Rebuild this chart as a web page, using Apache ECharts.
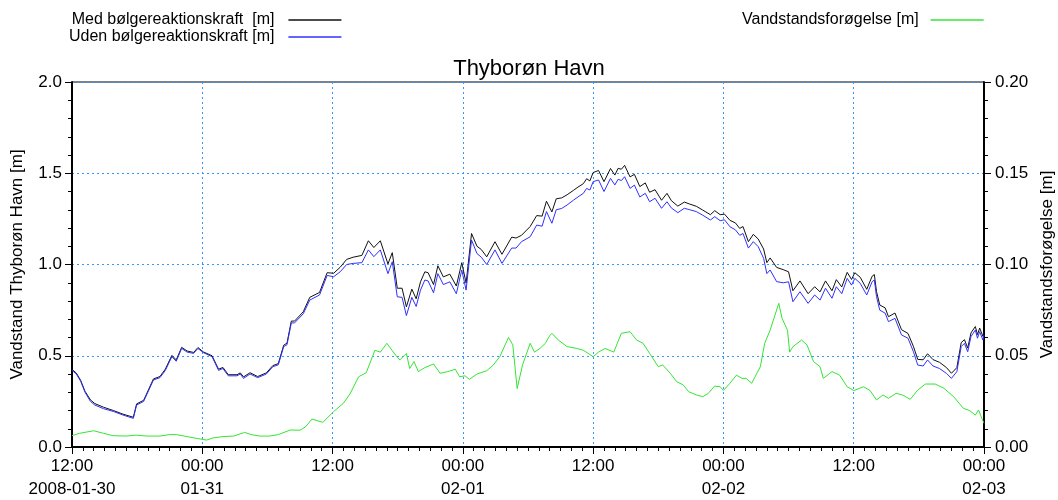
<!DOCTYPE html>
<html><head><meta charset="utf-8">
<script src="https://cdn.jsdelivr.net/npm/echarts@6/dist/echarts.min.js"></script>
<style>html,body{margin:0;padding:0;background:#fff}#c{width:1058px;height:500px}</style>
</head><body><div id="c"></div>
<script>
// Hours since 2008-01-30 12:00
const levelHours = [0,0.4,0.8,1.2,1.7,2.1,2.9,3.8,4.7,5.65,5.95,6.6,7.5,8.1,8.6,9.2,9.6,10.1,10.6,11.2,11.6,12.1,12.9,13.5,13.9,14.4,15.2,15.5,15.8,16.4,17.1,17.9,18.5,19.0,19.5,19.8,20.2,20.5,21.3,21.9,22.8,23.5,24.1,24.7,25.3,25.9,26.7,27.3,27.8,28.4,29.1,29.5,29.96,30.4,30.8,31.3,31.7,32.1,32.5,32.8,33.3,33.7,34.2,34.8,35.4,35.9,36.3,36.8,37.3,37.7,38.2,38.96,39.6,40.5,40.9,41.4,42.2,42.8,43.3,43.7,44.2,44.6,45.1,45.6,46.2,46.6,47.1,47.4,47.7,48.0,48.5,49.0,49.6,50.0,50.3,50.6,50.9,51.4,51.8,52.3,52.8,53.2,53.7,54.3,54.8,55.2,55.8,56.4,56.9,57.5,58.1,58.8,59.2,59.7,60.1,60.6,61.1,61.5,61.8,62.3,62.75,63.2,63.7,64.0,64.3,64.9,65.5,66.0,66.4,67.05,67.8,68.4,68.9,69.4,70.0,70.4,70.9,71.4,71.8,72.1,72.6,73.2,73.7,73.9,74.1,74.4,74.9,75.2,75.8,76.4,77.0,77.5,77.9,78.4,78.8,79.3,79.9,80.55,81.0,81.5,81.9,82.2,82.5,82.8,83.2,83.4,83.6,83.9,84.0];
const medVals = [0.425,0.405,0.365,0.305,0.258,0.238,0.218,0.20,0.18,0.163,0.236,0.256,0.373,0.386,0.427,0.502,0.477,0.546,0.526,0.518,0.545,0.521,0.50,0.426,0.436,0.396,0.396,0.406,0.384,0.407,0.386,0.406,0.446,0.457,0.558,0.569,0.69,0.69,0.741,0.82,0.847,0.955,0.952,0.985,1.028,1.04,1.05,1.13,1.093,1.13,1.003,1.065,0.87,0.87,0.768,0.865,0.812,0.905,0.96,0.955,0.89,0.993,0.932,0.947,0.882,1.01,0.898,1.17,1.10,1.082,1.042,1.125,1.056,1.15,1.145,1.16,1.208,1.268,1.265,1.347,1.288,1.36,1.365,1.382,1.407,1.424,1.443,1.47,1.458,1.504,1.515,1.454,1.526,1.49,1.527,1.522,1.543,1.48,1.494,1.427,1.447,1.396,1.41,1.352,1.39,1.35,1.32,1.342,1.331,1.319,1.298,1.273,1.295,1.273,1.276,1.242,1.228,1.198,1.208,1.125,1.165,1.14,1.085,1.01,1.036,0.984,0.972,0.96,0.856,0.91,0.84,0.878,0.85,0.91,0.856,0.917,0.877,0.957,0.918,0.955,0.93,0.864,0.936,0.945,0.852,0.778,0.762,0.714,0.734,0.643,0.622,0.551,0.48,0.478,0.511,0.479,0.464,0.435,0.404,0.435,0.572,0.588,0.542,0.625,0.66,0.616,0.652,0.606,0.634];
const udenVals = [0.42,0.40,0.36,0.30,0.25,0.23,0.21,0.195,0.175,0.157,0.23,0.25,0.367,0.38,0.42,0.495,0.47,0.54,0.52,0.513,0.54,0.517,0.495,0.42,0.43,0.39,0.39,0.40,0.376,0.40,0.38,0.40,0.44,0.45,0.55,0.56,0.68,0.68,0.73,0.805,0.833,0.94,0.933,0.96,1.0,1.006,1.01,1.08,1.043,1.08,0.95,1.015,0.823,0.82,0.72,0.82,0.77,0.86,0.915,0.91,0.845,0.95,0.89,0.905,0.84,0.97,0.86,1.134,1.06,1.04,1.0,1.08,1.006,1.09,1.09,1.125,1.152,1.216,1.21,1.29,1.226,1.30,1.307,1.326,1.353,1.37,1.39,1.417,1.408,1.454,1.463,1.40,1.472,1.436,1.467,1.46,1.481,1.417,1.435,1.37,1.39,1.344,1.363,1.308,1.344,1.31,1.284,1.308,1.30,1.29,1.27,1.244,1.262,1.24,1.245,1.207,1.19,1.16,1.17,1.09,1.125,1.098,1.034,0.95,0.97,0.906,0.90,0.905,0.796,0.851,0.787,0.833,0.805,0.87,0.815,0.878,0.84,0.924,0.887,0.924,0.897,0.833,0.906,0.915,0.824,0.75,0.733,0.687,0.705,0.614,0.596,0.522,0.449,0.444,0.477,0.444,0.43,0.403,0.376,0.413,0.55,0.568,0.522,0.605,0.641,0.596,0.632,0.586,0.614];
const surgeHours = [0,0.7,2.0,2.9,3.8,5.0,5.9,6.9,8.1,9.0,9.6,10.6,11.5,12.4,13.0,13.9,14.9,15.9,16.5,17.3,18.2,19.0,20.1,21.0,21.5,22.1,23.1,24.1,25.0,25.6,26.4,27.1,27.9,28.4,29.0,29.8,30.2,30.8,31.1,31.5,31.9,32.5,33.3,33.9,34.6,35.3,35.7,36.2,36.6,37.3,38.2,38.8,39.4,40.2,40.6,41.0,41.5,42.2,42.6,43.1,43.6,44.0,44.2,44.8,45.6,46.5,47.1,48.0,48.5,49.1,49.9,50.6,51.4,52.0,52.6,53.2,54.0,54.4,55.1,55.7,56.3,56.8,57.5,58.1,58.6,59.2,59.7,60.0,60.6,61.2,61.7,62.1,62.6,63.4,63.8,64.3,64.6,65.1,65.4,65.9,66.1,66.4,67.2,67.7,68.3,68.9,69.2,70.0,70.7,71.4,72.0,72.9,73.5,74.1,74.7,75.2,75.9,76.5,77.2,77.9,78.6,79.5,80.3,81.2,82.1,82.7,83.2,83.5,83.8,84.0];
const surgeVals = [0.0062,0.0075,0.0089,0.0075,0.0062,0.006,0.0065,0.006,0.006,0.0068,0.0068,0.0057,0.0047,0.0038,0.005,0.0057,0.006,0.008,0.0068,0.006,0.006,0.0068,0.0093,0.0092,0.011,0.0153,0.0135,0.0194,0.024,0.029,0.0385,0.0407,0.053,0.052,0.0568,0.0504,0.0477,0.0513,0.043,0.0468,0.0413,0.0435,0.0455,0.0404,0.0413,0.0426,0.0385,0.039,0.0371,0.040,0.0418,0.0449,0.0495,0.060,0.056,0.032,0.045,0.0568,0.052,0.054,0.0568,0.061,0.0623,0.0586,0.055,0.054,0.053,0.0495,0.052,0.054,0.052,0.0623,0.0632,0.0586,0.0568,0.0513,0.044,0.045,0.0404,0.0358,0.034,0.0303,0.0285,0.0276,0.0294,0.0334,0.033,0.031,0.0349,0.0394,0.0376,0.0376,0.0349,0.044,0.0568,0.064,0.0696,0.0787,0.0705,0.064,0.052,0.055,0.0586,0.0559,0.0468,0.044,0.0376,0.0413,0.0394,0.033,0.0309,0.033,0.031,0.0258,0.0285,0.0267,0.0294,0.0285,0.0261,0.0312,0.0345,0.0345,0.0322,0.0276,0.0212,0.0199,0.0175,0.0203,0.0157,0.013];
const xTickLabels = ['12:00\n2008-01-30','00:00\n01-31','12:00','00:00\n02-01','12:00','00:00\n02-02','12:00','00:00\n02-03'];
const seriesNames = ['Med bølgereaktionskraft  [m]','Uden bølgereaktionskraft [m]','Vandstandsforøgelse [m]'];

const FONT = 'Liberation Sans, Arial, sans-serif';
const pair = (hs, vs) => hs.map((h, i) => [h, vs[i]]);
const grid = '#3399ff';

const chart = echarts.init(document.getElementById('c'), null, {renderer:'canvas'});
chart.setOption({
  animation:false,
  backgroundColor:'#fff',
  textStyle:{fontFamily:FONT},
  title:{text:'Thyborøn Havn', left:'center', top:53, textStyle:{fontSize:22, fontWeight:'normal', color:'#000', fontFamily:FONT}},
  legend:[
    {data:[seriesNames[0],seriesNames[1]], orient:'vertical', left:64, top:7, align:'right', icon:'rect', itemWidth:53, itemHeight:1.5, itemGap:1,
     textStyle:{fontSize:16, color:'#000', fontFamily:FONT, padding:[0,9,0,0]}},
    {data:[seriesNames[2]], left:737, top:7, align:'right', icon:'rect', itemWidth:53, itemHeight:1.5,
     textStyle:{fontSize:16, color:'#000', fontFamily:FONT, padding:[0,7,0,0]}}
  ],
  grid:{left:72, right:74, top:82, bottom:53, show:true, borderColor:'#000', borderWidth:1, outerBoundsMode:'none', containLabel:false},
  xAxis:{type:'value', min:0, max:84, interval:12,
    axisLine:{show:true, onZero:false, lineStyle:{color:'#000', width:2}},
    axisTick:{show:true, length:7, lineStyle:{color:'#000'}},
    minorTick:{show:true, splitNumber:12, length:4, lineStyle:{color:'#000'}},
    axisLabel:{formatter:v => xTickLabels[Math.round(v/12)], color:'#000', fontSize:17, lineHeight:23, margin:8, fontFamily:FONT, showMinLabel:true, showMaxLabel:true},
    splitLine:{show:true, lineStyle:{color:grid, type:[2,3], width:1}}
  },
  yAxis:[
    {type:'value', position:'left', min:0, max:2, interval:0.5,
     name:'Vandstand Thyborøn Havn [m]', nameLocation:'middle', nameGap:46, nameRotate:90,
     nameTextStyle:{fontSize:17, color:'#000', fontFamily:FONT},
     axisLine:{show:true, onZero:false, lineStyle:{color:'#000', width:2}},
     axisTick:{show:true, length:7, lineStyle:{color:'#000'}},
     minorTick:{show:true, splitNumber:5, length:4, lineStyle:{color:'#000'}},
     axisLabel:{formatter:v => v.toFixed(1), color:'#000', fontSize:17, margin:10, fontFamily:FONT},
     splitLine:{show:true, lineStyle:{color:grid, type:[2,3], width:1}}},
    {type:'value', position:'right', min:0, max:0.2, interval:0.05,
     name:'Vandstandsforøgelse [m]', nameLocation:'middle', nameGap:55, nameRotate:90,
     nameTextStyle:{fontSize:17, color:'#000', fontFamily:FONT},
     axisLine:{show:true, onZero:false, lineStyle:{color:'#000', width:2}},
     axisTick:{show:true, length:7, lineStyle:{color:'#000'}},
     minorTick:{show:true, splitNumber:5, length:4, lineStyle:{color:'#000'}},
     axisLabel:{formatter:v => v.toFixed(2), color:'#000', fontSize:17, margin:11, fontFamily:FONT},
     splitLine:{show:false}}
  ],
  series:[
    {name:seriesNames[0], type:'line', yAxisIndex:0, showSymbol:false, color:'#111', lineStyle:{width:1, color:'#111'}, data:pair(levelHours, medVals), z:2},
    {name:seriesNames[1], type:'line', yAxisIndex:0, showSymbol:false, color:'#3030ff', lineStyle:{width:1, color:'#3030ff'}, data:pair(levelHours, udenVals), z:3},
    {name:seriesNames[2], type:'line', yAxisIndex:1, showSymbol:false, color:'#33e633', lineStyle:{width:1, color:'#33e633'}, data:pair(surgeHours, surgeVals), z:4}
  ]
});
</script></body></html>
